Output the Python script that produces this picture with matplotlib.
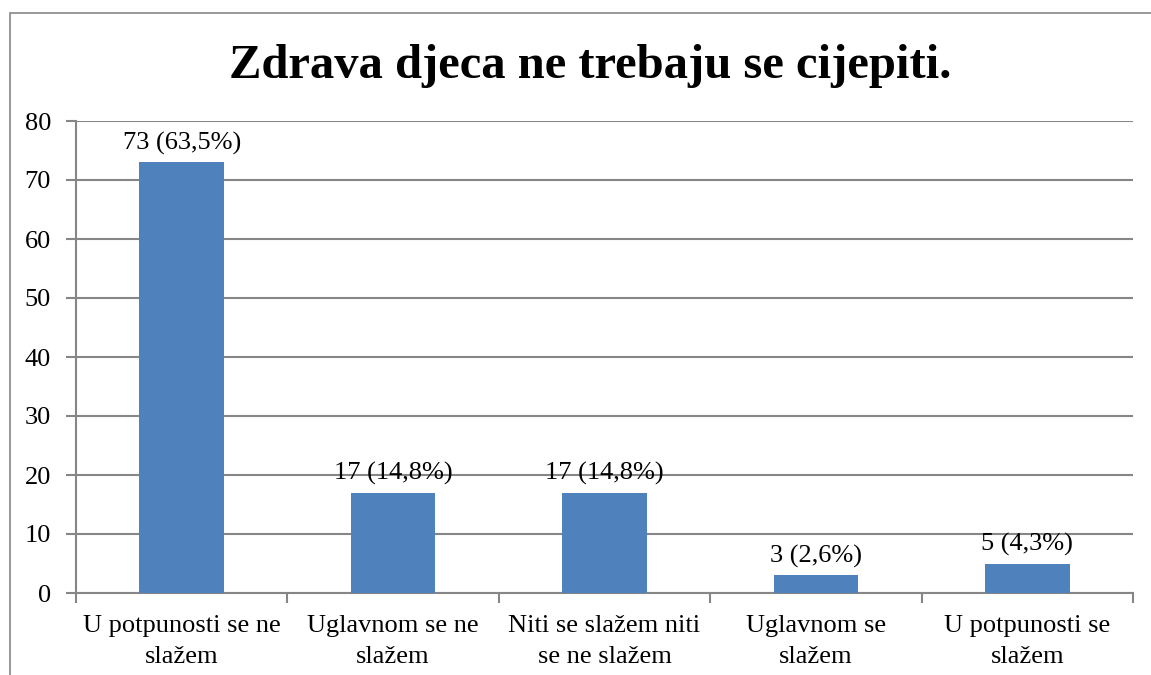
import matplotlib.pyplot as plt
from matplotlib.patches import Rectangle

categories = ['U potpunosti se ne\nslažem', 'Uglavnom se ne\nslažem',
              'Niti se slažem niti\nse ne slažem', 'Uglavnom se\nslažem',
              'U potpunosti se\nslažem']
counts = [73, 17, 17, 3, 5]
labels = ['73 (63,5%)', '17 (14,8%)', '17 (14,8%)', '3 (2,6%)', '5 (4,3%)']
yticks = [0, 10, 20, 30, 40, 50, 60, 70, 80]

plt.rcParams['font.family'] = ['Liberation Serif', 'DejaVu Serif']
grid_col = '#868686'

fig = plt.figure(figsize=(11.51, 6.75), dpi=100)
ax = fig.add_axes([76 / 1151, 1 - 593 / 675, 1057 / 1151, 472 / 675])

# outer chart border (only left and top visible in the reference)
fig.patches.append(Rectangle((10 / 1151, -0.1), 1.2, 1 - 13 / 675 + 0.1,
                             transform=fig.transFigure, fill=False,
                             edgecolor=grid_col, linewidth=1.2))

x = list(range(len(counts)))
ax.bar(x, counts, width=0.4, color='#4F81BD', zorder=3)
for xi, c, lab in zip(x, counts, labels):
    ax.text(xi, c + 1.3, lab, ha='center', va='bottom', fontsize=19)

ax.set_xlim(-0.5, len(counts) - 0.5)
ax.set_ylim(0, 80)
ax.set_yticks(yticks)
ax.set_yticklabels([str(t) for t in yticks], fontsize=19)
ax.yaxis.grid(True, color=grid_col, linewidth=1.5, zorder=0)
ax.tick_params(axis='y', length=7, width=1.5, color=grid_col, pad=11)

ax.set_xticks([i - 0.5 for i in range(len(counts) + 1)])
ax.set_xticklabels([])
ax.set_xticks(x, minor=True)
ax.set_xticklabels(categories, minor=True, fontsize=19, linespacing=1.5)
ax.tick_params(axis='x', which='major', length=7, width=1.5, color=grid_col)
ax.tick_params(axis='x', which='minor', length=0, pad=16)

for s in ['top', 'right']:
    ax.spines[s].set_visible(False)
for s in ['left', 'bottom']:
    ax.spines[s].set_color(grid_col)
    ax.spines[s].set_linewidth(1.5)

fig.text(590 / 1151, 1 - 66 / 675, 'Zdrava djeca ne trebaju se cijepiti.',
         ha='center', va='center', fontsize=35, fontweight='bold')

fig.savefig('out.png', dpi=100)
